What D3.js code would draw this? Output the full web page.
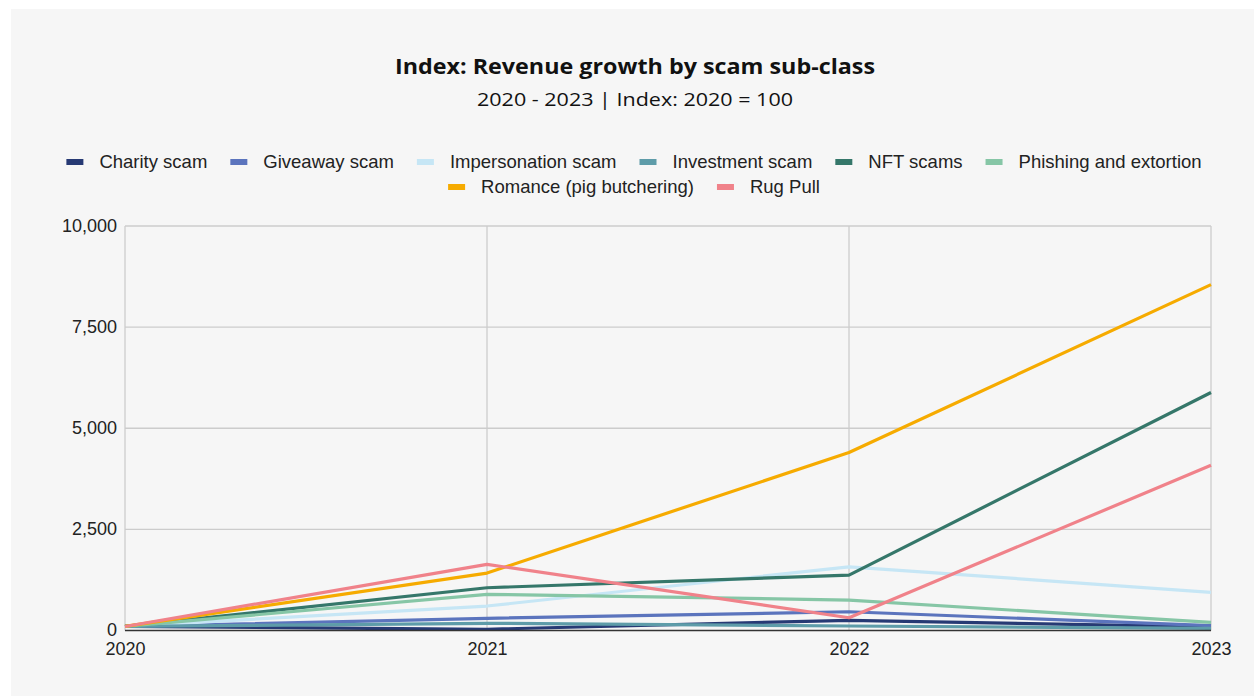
<!DOCTYPE html>
<html><head><meta charset="utf-8">
<script src="https://cdn.jsdelivr.net/npm/d3@7"></script>
<style>html,body{margin:0;padding:0;background:#fff;}</style>
</head><body>
<svg id="c" width="1254" height="696"></svg>
<script>
const years = ["2020","2021","2022","2023"];
const seriesNames = ["Charity scam","Giveaway scam","Impersonation scam","Investment scam","NFT scams","Phishing and extortion","Romance (pig butchering)","Rug Pull"];
const seriesColors = ["#273a74","#5b74bd","#c6e6f5","#5e9ca9","#35776a","#86c6a6","#f6ab00","#f0828a"];
const charity = [100, 30, 252, 90];
const giveaway = [100, 301, 464, 120];
const impersonation = [100, 605, 1575, 943];
const investment = [100, 178, 111, 55];
const nft = [100, 1057, 1370, 5885];
const phishing = [100, 894, 753, 200];
const romance = [100, 1420, 4400, 8550];
const rugPull = [100, 1635, 316, 4085];
const yTicks = [0, 2500, 5000, 7500, 10000];
const allValues = [charity, giveaway, impersonation, investment, nft, phishing, romance, rugPull];

const svg = d3.select("#c");
svg.append("rect").attr("x",11).attr("y",9).attr("width",1243).attr("height",687).attr("fill","#f6f6f6");

const x = d3.scalePoint().domain(years).range([125, 1211]);
const y = d3.scaleLinear().domain([0, 10000]).range([630.5, 226]);

// title
svg.append("text").attr("x",635).attr("y",74).attr("text-anchor","middle")
  .attr("font-family","'Open Sans', Lato, sans-serif").attr("font-weight","bold").attr("font-size",21).attr("fill","#111")
  .attr("textLength",480).attr("lengthAdjust","spacingAndGlyphs")
  .text("Index: Revenue growth by scam sub-class");
svg.append("text").attr("x",635).attr("y",106).attr("text-anchor","middle")
  .attr("font-family","'Open Sans', Lato, sans-serif").attr("font-size",19).attr("fill","#111")
  .attr("textLength",316).attr("lengthAdjust","spacingAndGlyphs")
  .text("2020 - 2023 | Index: 2020 = 100");

// gridlines
const g = svg.append("g");
g.selectAll(".hg").data(yTicks.filter(d=>d>0)).join("line")
  .attr("x1",125).attr("x2",1211).attr("y1",d=>y(d)).attr("y2",d=>y(d))
  .attr("stroke","#cccccc").attr("stroke-width",1.3);
g.selectAll(".vg").data(years).join("line")
  .attr("x1",d=>x(d)).attr("x2",d=>x(d)).attr("y1",226).attr("y2",630.5)
  .attr("stroke","#cccccc").attr("stroke-width",1.3);

// axes
const yAxis = d3.axisLeft(y).tickValues(yTicks).tickSize(0).tickPadding(8).tickFormat(d3.format(","));
const ya = svg.append("g").attr("transform","translate(125,0)").call(yAxis);
ya.select(".domain").remove();
ya.selectAll("text").attr("font-family","'Liberation Sans', Arial, sans-serif").attr("font-size",18).attr("fill","#222").attr("dy","0.3em");
const xAxis = d3.axisBottom(x).tickSize(0).tickPadding(11);
const xa = svg.append("g").attr("transform","translate(0,630.5)").call(xAxis);
xa.select(".domain").remove();
xa.selectAll("text").attr("font-family","'Liberation Sans', Arial, sans-serif").attr("font-size",18).attr("fill","#222").attr("dy","0.75em");

// lines
const line = d3.line().x((d,i)=>x(years[i])).y(d=>y(d));
allValues.forEach((vals,i)=>{
  svg.append("path").datum(vals).attr("d",line).attr("fill","none")
    .attr("stroke",seriesColors[i]).attr("stroke-width",3.2).attr("stroke-linejoin","round");
});

// baseline
svg.append("line").attr("x1",125).attr("x2",1211).attr("y1",y(0)).attr("y2",y(0)).attr("stroke","#333").attr("stroke-width",1.3);

// legend
const rows = [[0,1,2,3,4,5],[6,7]];
const rowY = [162, 187];
const lg = svg.append("g");
rows.forEach((row,ri)=>{
  const items = row.map(i=>{
    const gg = lg.append("g");
    gg.append("rect").attr("x",0).attr("y",-3).attr("width",17).attr("height",6).attr("fill",seriesColors[i]);
    const t = gg.append("text").attr("x",33).attr("y",0).attr("dy","0.35em")
      .attr("font-family","'Liberation Sans', Arial, sans-serif").attr("font-size",18.5).attr("fill","#222").text(seriesNames[i]);
    return {gg, w: 33 + t.node().getComputedTextLength()};
  });
  const gap = 23;
  const total = d3.sum(items, d=>d.w) + gap*(items.length-1);
  let cx = 634 - total/2;
  items.forEach(it=>{
    it.gg.attr("transform",`translate(${cx},${rowY[ri]})`);
    cx += it.w + gap;
  });
});
</script>
</body></html>
